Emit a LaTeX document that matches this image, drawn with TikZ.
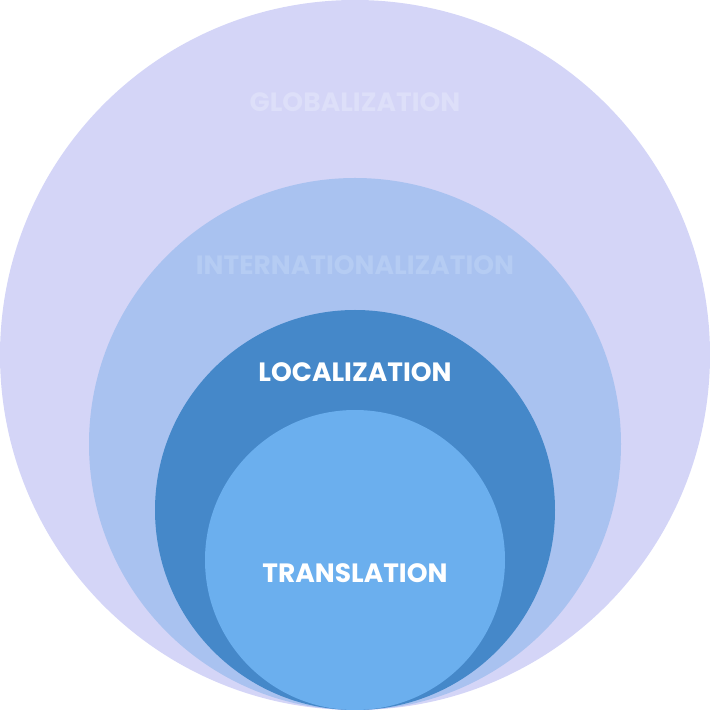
\documentclass[tikz,border=0pt]{standalone}
\usepackage{fontspec}
\setmainfont{Poppins}
\definecolor{cglob}{HTML}{D4D5F7}
\definecolor{cglobt}{HTML}{DDDFF9}
\definecolor{cint}{HTML}{A9C2F0}
\definecolor{cintt}{HTML}{B5CCF3}
\definecolor{cloc}{HTML}{4588C9}
\definecolor{ctra}{HTML}{6BAFEE}
\tikzset{lbl/.style={font=\bfseries\fontsize{26.5}{30}\selectfont, inner sep=0pt}}
\begin{document}
\begin{tikzpicture}[x=1pt,y=1pt]
\useasboundingbox (0,0) rectangle (710,710);
\fill[cglob] (355,355) circle (355);
\fill[cint] (355,266) circle (266);
\fill[cloc] (355,200) circle (200);
\fill[ctra] (355,150) circle (150);
\node[lbl, text=cglobt] (g) at (355,608) {GLOBALIZATION};
\node[lbl, text=cintt] (i) at (355,445) {INTERNATIONALIZATION};
\node[lbl, text=white] (l) at (355,338) {LOCALIZATION};
\node[lbl, text=white] (t) at (355,137) {TRANSLATION};
\end{tikzpicture}
\end{document}
